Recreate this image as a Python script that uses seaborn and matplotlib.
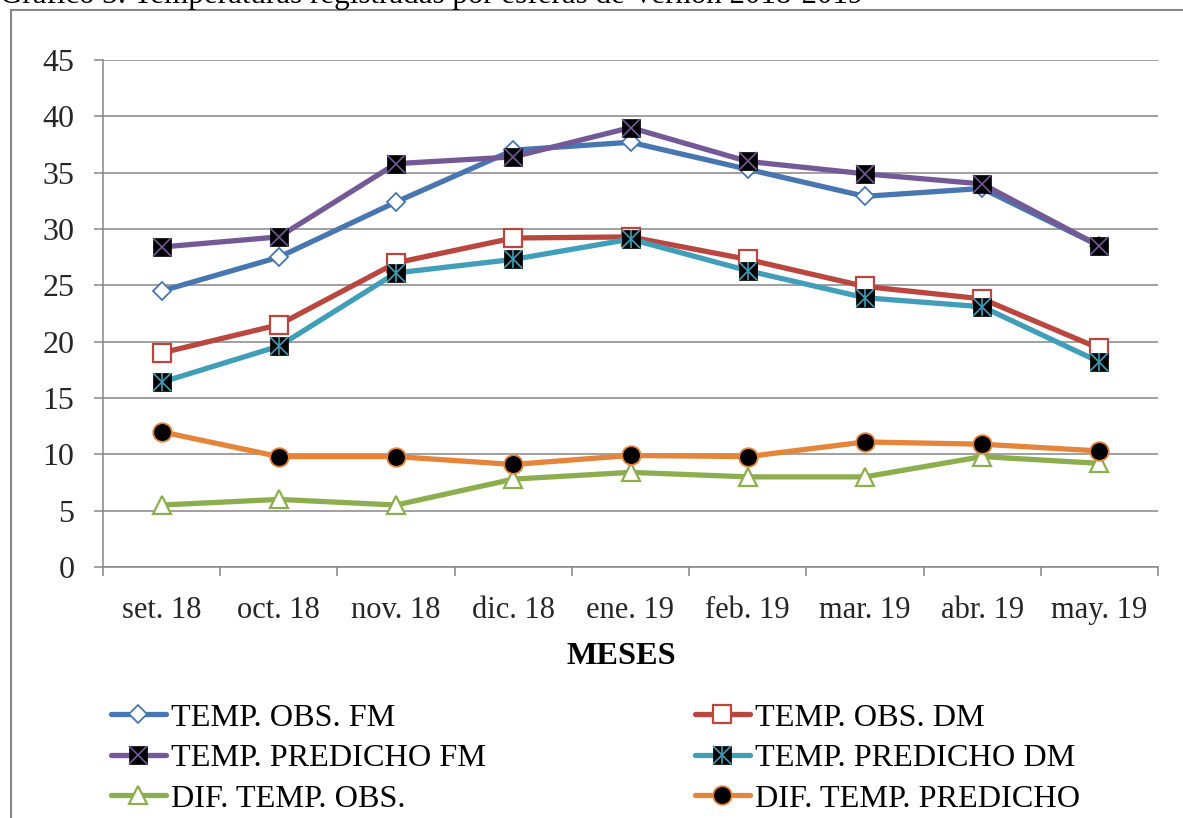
import numpy as np
import pandas as pd
import matplotlib
matplotlib.use("Agg")
import matplotlib.pyplot as plt
import seaborn as sns
from matplotlib.lines import Line2D
from matplotlib.patches import Rectangle
from matplotlib.legend_handler import HandlerTuple

# ---- data -------------------------------------------------------------
meses = ["set. 18", "oct. 18", "nov. 18", "dic. 18", "ene. 19",
         "feb. 19", "mar. 19", "abr. 19", "may. 19"]
temp_obs_fm = [24.5, 27.5, 32.4, 37.0, 37.7, 35.3, 32.9, 33.6, 28.5]
temp_obs_dm = [19.0, 21.5, 27.0, 29.2, 29.3, 27.3, 24.9, 23.8, 19.4]
temp_pred_fm = [28.4, 29.3, 35.8, 36.4, 39.0, 36.0, 34.9, 34.0, 28.5]
temp_pred_dm = [16.4, 19.6, 26.1, 27.3, 29.1, 26.3, 23.9, 23.1, 18.2]
dif_obs = [5.5, 6.0, 5.5, 7.8, 8.4, 8.0, 8.0, 9.8, 9.2]
dif_pred = [12.0, 9.8, 9.8, 9.1, 9.9, 9.8, 11.1, 10.9, 10.3]

y_ticks = [0, 5, 10, 15, 20, 25, 30, 35, 40, 45]

df = pd.DataFrame({
    "mes": meses,
    "TEMP. OBS. FM": temp_obs_fm,
    "TEMP. OBS. DM": temp_obs_dm,
    "TEMP. PREDICHO FM": temp_pred_fm,
    "TEMP. PREDICHO DM": temp_pred_dm,
    "DIF. TEMP. OBS.": dif_obs,
    "DIF. TEMP. PREDICHO": dif_pred,
})

# ---- style ------------------------------------------------------------
sns.set_theme(style="white")
plt.rcParams["font.family"] = ["Liberation Serif", "DejaVu Serif"]
plt.rcParams["text.color"] = "black"

GRID = "#868686"
MS = 13.4
LW = 3.8

# column name -> (line colour, base marker, face, edge, edge width, overlay markers)
series = [
    ("TEMP. OBS. FM", "#4776B0", "D", "white", "#4776B0", 1.3, []),
    ("TEMP. OBS. DM", "#B9463F", "s", "white", "#B9463F", 1.6, []),
    ("TEMP. PREDICHO FM", "#735A96", "s", "black", "black", 0.5, ["x"]),
    ("TEMP. PREDICHO DM", "#409EB8", "s", "black", "black", 0.5, ["x", "|"]),
    ("DIF. TEMP. OBS.", "#8DAE4F", "^", "white", "#8DAE4F", 1.6, []),
    ("DIF. TEMP. PREDICHO", "#E4853B", "o", "black", "#E4853B", 1.3, []),
]

fig = plt.figure(figsize=(11.83, 8.18), dpi=100)
W, H = 1183, 818
ax = fig.add_axes([103 / W, 1 - 567 / H, (1158 - 103) / W, (567 - 60) / H])

handles = {}
for name, col, mk, face, edge, mew, over in series:
    ms = MS * (0.72 if mk == "D" else 1.0)
    sns.lineplot(data=df, x="mes", y=name, sort=False, ax=ax, color=col,
                 linewidth=LW, marker=mk, markersize=ms,
                 markerfacecolor=face, markeredgecolor=edge,
                 markeredgewidth=mew, solid_capstyle="round", zorder=3)
    base = Line2D([], [], color=col, linewidth=LW, marker=mk, markersize=ms,
                  markerfacecolor=face, markeredgecolor=edge,
                  markeredgewidth=mew, solid_capstyle="round")
    parts = [base]
    for o in over:
        ax.plot(df["mes"], df[name], linestyle="none", marker=o,
                markersize=MS, markeredgecolor=col, markeredgewidth=1.2,
                zorder=3)
        parts.append(Line2D([], [], linestyle="none", marker=o, markersize=MS,
                            markeredgecolor=col, markeredgewidth=1.2))
    handles[name] = tuple(parts)

# ---- axes -------------------------------------------------------------
ax.set_ylim(0, 45)
ax.set_xlim(-0.5, len(meses) - 0.5)
ax.set_yticks(y_ticks)
ax.set_yticklabels([str(v) for v in y_ticks], fontsize=23)
ax.set_xticks(np.arange(-0.5, len(meses), 1.0))
ax.set_xticklabels([])
ax.set_xticks(range(len(meses)), labels=meses, minor=True)
ax.tick_params(axis="x", which="minor", length=0, labelsize=22, pad=21)
ax.tick_params(axis="x", which="major", length=6.5, width=1.1, color=GRID,
               direction="out", bottom=True)
ax.tick_params(axis="y", length=6.5, width=1.1, color=GRID, direction="out",
               left=True, pad=14)
ax.grid(axis="y", color=GRID, linewidth=1.1)
ax.grid(axis="x", visible=False)
ax.set_axisbelow(True)
for side in ["top", "right"]:
    ax.spines[side].set_visible(False)
for side in ["left", "bottom"]:
    ax.spines[side].set_color(GRID)
    ax.spines[side].set_linewidth(1.1)
ax.set_xlabel("")
ax.set_ylabel("")

fig.text(621 / W, 1 - 657 / H, "MESES", fontsize=23.3, fontweight="bold",
         ha="center", va="center")

# ---- legend (two columns) ---------------------------------------------
order = [["TEMP. OBS. FM", "TEMP. PREDICHO FM", "DIF. TEMP. OBS."],
         ["TEMP. OBS. DM", "TEMP. PREDICHO DM", "DIF. TEMP. PREDICHO"]]
for names, x0 in zip(order, [111, 695]):
    fig.legend([handles[n] for n in names], names, loc="upper left",
               bbox_to_anchor=(x0 / W, 1 - 703 / H), frameon=False,
               fontsize=23.2, handlelength=1.7, handletextpad=0.15,
               labelspacing=0.34, borderpad=0, borderaxespad=0,
               handler_map={tuple: HandlerTuple(ndivide=1)})

# ---- outer frame and caption ------------------------------------------
fig.patches.append(Rectangle((10.5 / W, -0.05), 1.2, 1 - 9.5 / H + 0.05,
                             transform=fig.transFigure, fill=False,
                             edgecolor=GRID, linewidth=1.5))
fig.text(0.0, 1 - 3 / H,
         "Gráfico 3: Temperaturas registradas por esferas de Vernon 2018-2019",
         fontsize=22.3, ha="left", va="baseline")

fig.savefig("out.png", dpi=100)
